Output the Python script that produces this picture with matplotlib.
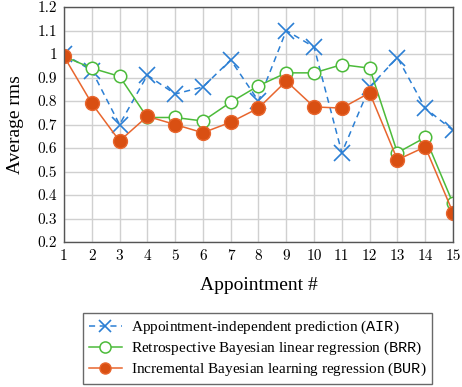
import matplotlib
matplotlib.use("Agg")
import matplotlib.pyplot as plt

# Appointment numbers and average rms per method
appointments = list(range(1, 16))
air = [1.00, 0.93, 0.70, 0.91, 0.83, 0.86, 0.975, 0.80, 1.10, 1.03, 0.58, 0.86, 0.985, 0.77, 0.675]
brr = [0.99, 0.94, 0.905, 0.73, 0.73, 0.715, 0.795, 0.865, 0.92, 0.92, 0.955, 0.94, 0.58, 0.645, 0.365]
bur = [0.99, 0.79, 0.63, 0.735, 0.70, 0.665, 0.71, 0.77, 0.885, 0.775, 0.77, 0.835, 0.55, 0.605, 0.325]
y_ticks = [0.2, 0.3, 0.4, 0.5, 0.6, 0.7, 0.8, 0.9, 1.0, 1.1, 1.2]
y_tick_labels = ["0.2", "0.3", "0.4", "0.5", "0.6", "0.7", "0.8", "0.9", "1", "1.1", "1.2"]

plt.rcParams["mathtext.fontset"] = "custom"
plt.rcParams["mathtext.tt"] = "Liberation Mono"
plt.rcParams["mathtext.rm"] = "Liberation Serif"
plt.rcParams["font.family"] = ["cmr10", "DejaVu Serif"]
plt.rcParams["axes.unicode_minus"] = False

fig = plt.figure(figsize=(4.62, 3.87), dpi=100)
ax = fig.add_axes([0.1385, 0.3747, 0.842, 0.607])

ax.plot(appointments, air, color="#2b7fd4", linestyle=(0, (4, 3)), linewidth=1.1,
        marker="x", markersize=11, markeredgewidth=1.2,
        label=r"Appointment-independent prediction ($\mathtt{AIR}$)")
ax.plot(appointments, brr, color="#4cbb3a", linewidth=1.1,
        marker="o", markersize=9, markerfacecolor="white", markeredgewidth=1.1,
        label=r"Retrospective Bayesian linear regression ($\mathtt{BRR}$)")
ax.plot(appointments, bur, color="#e8662e", linewidth=1.1,
        marker="o", markersize=10, markerfacecolor="#d94f12", markeredgecolor="#e8662e",
        label=r"Incremental Bayesian learning regression ($\mathtt{BUR}$)")

ax.set_xlim(1, 15)
ax.set_ylim(0.2, 1.2)
ax.set_xticks(appointments)
ax.set_yticks(y_ticks)
ax.set_yticklabels(y_tick_labels)
ax.tick_params(length=0, labelsize=11, pad=5)
ax.grid(True, color="#d0d0d0", linewidth=1.0)
ax.set_axisbelow(True)
for s in ax.spines.values():
    s.set_color("#555555")
    s.set_linewidth(1.0)

ax.set_xlabel("Appointment #", fontsize=14, labelpad=10, family="Liberation Serif")
ax.set_ylabel("Average rms", fontsize=14, labelpad=10, family="Liberation Serif")

leg = fig.legend(loc="upper center", bbox_to_anchor=(0.558, 0.19), borderaxespad=0,
                 frameon=True, fancybox=False, edgecolor="#444444",
                 handlelength=2.2, handletextpad=0.6, borderpad=0.35, labelspacing=0.25,
                 prop={"family": ["Liberation Serif"], "size": 11})
leg.get_frame().set_linewidth(1.0)
for h in leg.legend_handles:
    h.set_markersize(8)

fig.savefig("out.png", dpi=100)
